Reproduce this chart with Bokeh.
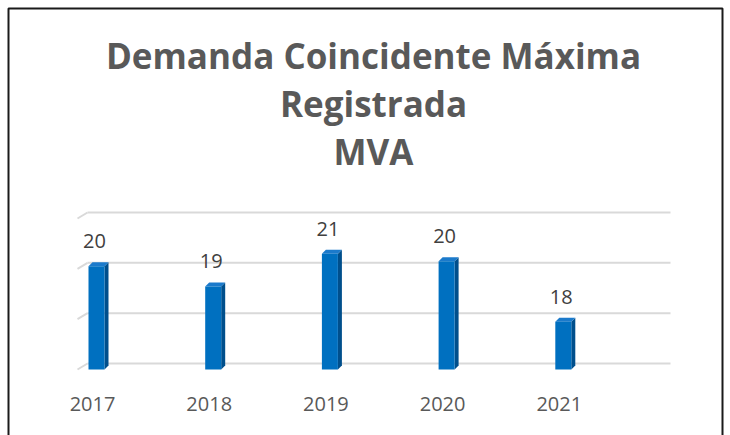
import numpy as np
from bokeh.plotting import figure
from bokeh.models import Range1d, ColumnDataSource
from bokeh.core.properties import value
from bokeh.embed import file_html
from bokeh.resources import INLINE

# ---------------- data ----------------
years = ["2017", "2018", "2019", "2020", "2021"]
demand = [20.1, 19.3, 20.6, 20.3, 17.9]
value_labels = ["20", "19", "21", "20", "18"]
grid_ticks = [16, 18, 20, 22]
title_lines = ["Demanda Coincidente Máxima", "Registrada", "MVA"]

# ---------------- geometry (pixels -> data) ----------------
W, H = 730, 435
PXX = 116.7            # pixels per category step
PXY = 151.0 / 6.0      # pixels per MVA
Y_BASE = grid_ticks[0]
X0 = -96.0 / PXX       # first bar centre at 96 px
Y0 = Y_BASE - 66.0 / PXY  # base line at 369 px


def px2x(px):
    return X0 + px / PXX


def px2y(py):
    return Y0 + (H - py) / PXY


p = figure(width=W, height=H, title=None,
           x_range=Range1d(X0, X0 + W / PXX),
           y_range=Range1d(Y0, Y0 + H / PXY),
           x_axis_location=None, y_axis_location=None,
           output_backend="svg", toolbar_location=None, min_border=0)
p.grid.visible = False
p.outline_line_color = None
p.background_fill_color = "white"
p.border_fill_color = "white"

idx = np.arange(len(years), dtype=float)
vals = np.array(demand)

# ---- chart border (left, top, right) ----
p.line(x=[px2x(8), px2x(8), px2x(722), px2x(722)],
       y=[px2y(440), px2y(8), px2y(8), px2y(440)],
       line_color="#1a1a1a", line_width=2)

# ---- back-wall gridlines with perspective stubs ----
GRID_COL = "#D9D9D9"
gdy = 6.0 / PXY
gx_left = px2x(87)
gx_right = px2x(670)
gx_stub = px2x(77)
ticks = np.array(grid_ticks, dtype=float)
p.segment(x0=[gx_left] * len(ticks), y0=ticks + gdy,
          x1=[gx_right] * len(ticks), y1=ticks + gdy,
          line_color=GRID_COL, line_width=2)
p.segment(x0=[gx_stub] * len(ticks), y0=ticks,
          x1=[gx_left] * len(ticks), y1=ticks + gdy,
          line_color=GRID_COL, line_width=2)

# ---- 3D bars ----
hw = 8.0 / PXX
ddx = 4.0 / PXX
ddy = 4.0 / PXY
side_xs = [[i + hw, i + hw + ddx, i + hw + ddx, i + hw] for i in idx]
side_ys = [[Y_BASE, Y_BASE + ddy, v + ddy, v] for v in vals]
p.patches(side_xs, side_ys, fill_color="#004F8C", line_color=None)
top_xs = [[i - hw, i + hw, i + hw + ddx, i - hw + ddx] for i in idx]
top_ys = [[v, v, v + ddy, v + ddy] for v in vals]
p.patches(top_xs, top_ys, fill_color="#1B7ACB", line_color=None)
p.vbar(x=idx, width=2 * hw, bottom=Y_BASE, top=vals,
       fill_color="#0070C0", line_color=None)

# ---- value labels ----
src_lab = ColumnDataSource(dict(x=idx - 2.0 / PXX, y=vals + 25.0 / PXY,
                                t=value_labels))
p.text(x="x", y="y", text="t", source=src_lab, text_align="center",
       text_baseline="middle", text_font=value("Open Sans"),
       text_font_size="20px", text_color="#404040")

# ---- category labels ----
src_cat = ColumnDataSource(dict(x=idx - 4.0 / PXX,
                                y=[px2y(403.5)] * len(years), t=years))
p.text(x="x", y="y", text="t", source=src_cat, text_align="center",
       text_baseline="middle", text_font=value("Open Sans"),
       text_font_size="20px", text_color="#595959")

# ---- title ----
src_title = ColumnDataSource(dict(x=[px2x(373)] * len(title_lines),
                                  y=[px2y(54.5 + 48 * k) for k in range(len(title_lines))],
                                  t=title_lines))
p.text(x="x", y="y", text="t", source=src_title, text_align="center",
       text_baseline="middle", text_font=value("Open Sans"),
       text_font_style="bold", text_font_size="35px", text_color="#595959")

open("out.html", "w").write(file_html(p, INLINE))
